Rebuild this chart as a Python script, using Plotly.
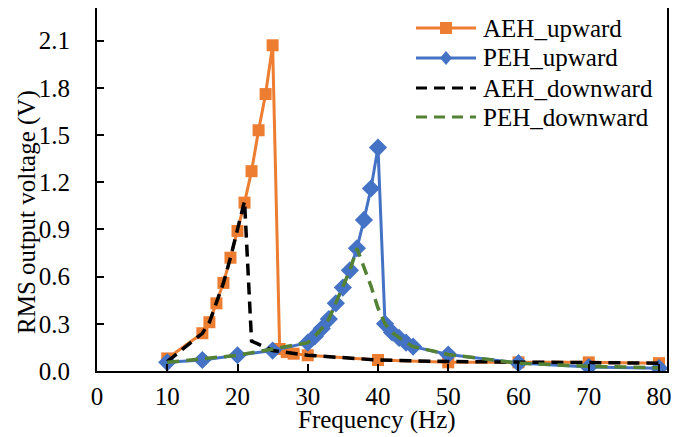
import plotly.graph_objects as go

# ---- data ----
aeh_up_f = [10, 15, 16, 17, 18, 19, 20, 21, 22, 23, 24, 25, 26, 27, 28, 30, 40, 50, 60, 70, 80]
aeh_up_v = [0.08, 0.24, 0.31, 0.43, 0.56, 0.72, 0.89, 1.07, 1.27, 1.53, 1.76, 2.07,
            0.14, 0.12, 0.11, 0.10, 0.07, 0.055, 0.055, 0.055, 0.05]

peh_up_f = [10, 15, 20, 25, 30, 31, 32, 33, 34, 35, 36, 37, 38, 39, 40,
            41, 42, 43, 44, 45, 50, 60, 70, 80]
peh_up_v = [0.055, 0.07, 0.10, 0.13, 0.18, 0.22, 0.27, 0.33, 0.43, 0.53, 0.64, 0.78, 0.96, 1.16, 1.42,
            0.30, 0.245, 0.21, 0.18, 0.155, 0.105, 0.05, 0.025, 0.018]

aeh_down_f = [10, 15, 16, 17, 18, 19, 20, 21, 22, 25, 30, 40, 50, 60, 70, 80]
aeh_down_v = [0.06, 0.24, 0.31, 0.43, 0.56, 0.72, 0.89, 1.08, 0.19, 0.13, 0.10, 0.07, 0.06, 0.055, 0.055, 0.05]

peh_down_f = [10, 15, 20, 25, 30, 31, 32, 33, 34, 35, 36, 37, 38, 39, 40,
              41, 42, 43, 44, 45, 50, 60, 70, 80]
peh_down_v = [0.055, 0.075, 0.10, 0.14, 0.18, 0.22, 0.27, 0.33, 0.43, 0.53, 0.64, 0.78, 0.66, 0.54, 0.40,
              0.30, 0.245, 0.21, 0.18, 0.155, 0.105, 0.05, 0.03, 0.02]

x_ticks = [0, 10, 20, 30, 40, 50, 60, 70, 80]
y_ticks = [0.0, 0.3, 0.6, 0.9, 1.2, 1.5, 1.8, 2.1]

series_names = ["AEH_upward", "PEH_upward", "AEH_downward", "PEH_downward"]

FONT = "Liberation Serif, Times New Roman, serif"
FS = 25
ORANGE = "#ED7D31"
BLUE = "#4472C4"
GREEN = "#548235"
DASH = "12px,7px"

# plot-area geometry (figure is offset 8px by the page body margin)
W, H = 681, 429
ML, MR, MT, MB = 89, 22, 0, 66
PW, PH = W - ML - MR, H - MT - MB


def px(xp):   # page x pixel -> paper x
    return (xp - 8 - ML) / PW


def py(yp):   # page y pixel -> paper y
    return (H - MB - (yp - 8)) / PH


fig = go.Figure()
fig.add_trace(go.Scatter(
    x=aeh_up_f, y=aeh_up_v, name=series_names[0], mode="lines+markers",
    line=dict(color=ORANGE, width=3),
    marker=dict(symbol="square", size=12, color=ORANGE)))
fig.add_trace(go.Scatter(
    x=peh_up_f, y=peh_up_v, name=series_names[1], mode="lines+markers",
    line=dict(color=BLUE, width=3),
    marker=dict(symbol="diamond", size=14, color=BLUE)))
fig.add_trace(go.Scatter(
    x=aeh_down_f, y=aeh_down_v, name=series_names[2], mode="lines",
    line=dict(color="black", width=3.5, dash=DASH)))
fig.add_trace(go.Scatter(
    x=peh_down_f, y=peh_down_v, name=series_names[3], mode="lines",
    line=dict(color=GREEN, width=3.5, dash=DASH)))

# ---- legend drawn as shapes + text (to match the compact row spacing) ----
shapes = []
annotations = []
colors = [ORANGE, BLUE, "black", GREEN]
row_y = [28, 58, 88, 117]
for i, name in enumerate(series_names):
    yc = row_y[i]
    dash = "solid" if i < 2 else "11px,7px"
    shapes.append(dict(type="line", xref="paper", yref="paper",
                       x0=px(416), x1=px(476), y0=py(yc), y1=py(yc),
                       line=dict(color=colors[i], width=3, dash=dash)))
    if i == 0:
        shapes.append(dict(type="rect", xref="paper", yref="paper",
                           x0=px(440), x1=px(452), y0=py(yc + 6), y1=py(yc - 6),
                           fillcolor=ORANGE, line=dict(width=0)))
    elif i == 1:
        path = "M {a},{b} L {c},{d} L {a},{e} L {f},{d} Z".format(
            a=px(446), b=py(yc - 7), c=px(452), d=py(yc), e=py(yc + 7), f=px(440))
        shapes.append(dict(type="path", xref="paper", yref="paper", path=path,
                           fillcolor=BLUE, line=dict(width=0)))
    annotations.append(dict(text=name, xref="paper", yref="paper", x=px(481), y=py(yc),
                            xanchor="left", yanchor="middle", showarrow=False,
                            font=dict(family=FONT, size=FS, color="black")))

annotations.append(dict(text="Frequency (Hz)", xref="paper", yref="paper",
                        x=px(377), y=py(420), xanchor="center", yanchor="middle",
                        showarrow=False, font=dict(family=FONT, size=FS, color="black")))
annotations.append(dict(text="RMS output voltage (V)", xref="paper", yref="paper",
                        x=px(27), y=py(212), xanchor="center", yanchor="middle",
                        textangle=-90, showarrow=False,
                        font=dict(family=FONT, size=FS, color="black")))

fig.update_layout(
    width=W, height=H,
    margin=dict(l=ML, r=MR, t=MT, b=MB, autoexpand=False),
    paper_bgcolor="white", plot_bgcolor="white",
    font=dict(family=FONT, size=FS, color="black"),
    showlegend=False,
    shapes=shapes, annotations=annotations,
    xaxis=dict(range=[0, 81.14], tickvals=x_ticks, ticks="inside", ticklen=7, tickwidth=2,
               tickcolor="black", showline=True, linecolor="black", linewidth=2, mirror=True,
               showgrid=False, zeroline=False, ticklabelstandoff=2, automargin=False),
    yaxis=dict(range=[0, 2.307], tickvals=y_ticks, tickformat=".1f", ticks="inside", ticklen=7,
               tickwidth=2, tickcolor="black", showline=True, linecolor="black", linewidth=2,
               mirror=True, showgrid=False, zeroline=False, ticklabelstandoff=20, automargin=False),
)

fig.write_html("out.html")
